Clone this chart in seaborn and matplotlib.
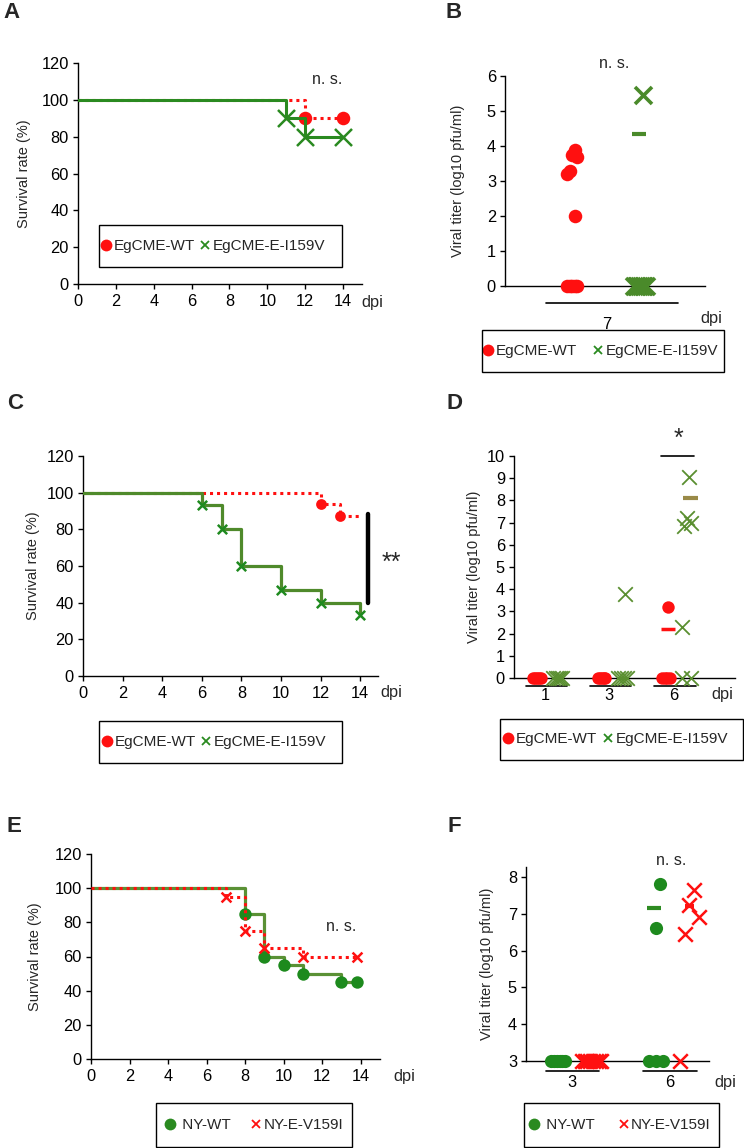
import numpy as np
import pandas as pd
import matplotlib
matplotlib.use("Agg")
import matplotlib.pyplot as plt
import seaborn as sns
from matplotlib.lines import Line2D
from matplotlib.patches import Rectangle

# --- A: survival, EgCME (days / survival %) ---
a_wt_days = [0, 12, 14]
a_wt_surv = [100, 90, 90]
a_mut_days = [0, 11, 12, 14]
a_mut_surv = [100, 90, 80, 80]

# --- B: viral titer at 7 dpi ---
b_dpi = ["7"]
b_wt_titer = [[3.9, 3.75, 3.7, 3.3, 3.2, 2.0, 0, 0, 0, 0, 0]]
b_mut_titer = [[5.45, 0, 0, 0, 0, 0, 0, 0, 0]]
b_mut_mean = [4.35]

# --- C: survival, EgCME ---
c_wt_days = [0, 12, 13, 14]
c_wt_surv = [100, 93.75, 87.5, 87.5]
c_mut_days = [0, 6, 7, 8, 10, 12, 14]
c_mut_surv = [100, 93.3, 80, 60, 46.7, 40, 33.3]

# --- D: viral titer by dpi ---
d_dpi = ["1", "3", "6"]
d_wt_titer = [[0, 0, 0, 0, 0], [0, 0, 0, 0, 0], [3.2, 0, 0, 0, 0]]
d_mut_titer = [[0, 0, 0, 0, 0], [3.8, 0, 0, 0, 0], [9.05, 7.2, 7.0, 6.85, 2.3, 0, 0]]
d_wt_mean = [np.nan, np.nan, 2.2]
d_mut_mean = [np.nan, np.nan, 8.1]

# --- E: survival, NY ---
e_wt_days = [0, 8, 9, 10, 11, 13, 13.8]
e_wt_surv = [100, 85, 60, 55, 50, 45, 45]
e_mut_days = [0, 7, 8, 9, 11, 13.8]
e_mut_surv = [100, 95, 75, 65, 60, 60]

# --- F: viral titer by dpi ---
f_dpi = ["3", "6"]
f_wt_titer = [[3, 3, 3, 3, 3, 3], [7.8, 6.6, 3, 3, 3]]
f_mut_titer = [[3, 3, 3, 3, 3, 3, 3, 3], [7.65, 7.25, 6.9, 6.45, 3]]
f_wt_mean = [np.nan, 7.15]
f_mut_mean = [np.nan, 7.2]

RED = "#ff1010"
GREEN = "#2a8a20"

sns.set_theme(style="ticks")
plt.rcParams["font.family"] = ["Liberation Sans", "DejaVu Sans"]
plt.rcParams["axes.edgecolor"] = "black"

W, H = 744, 1148
fig = plt.figure(figsize=(W / 100, H / 100), dpi=100)


def rect(l, t, r, b):
    return [l / W, 1 - b / H, (r - l) / W, (b - t) / H]


def fxy(x, y):
    return x / W, 1 - y / H


def style(ax):
    sns.despine(ax=ax)
    for s in ["left", "bottom"]:
        ax.spines[s].set_linewidth(1.0)
        ax.spines[s].set_color("black")
    ax.tick_params(direction="out", length=3.5, width=1, labelsize=11.8,
                   pad=3, colors="black")
    ax.set_facecolor("white")


def survival(ax, days, surv, color, ls, lw, mcolor, marker, ms, mlw, z, end_marker=True):
    sns.lineplot(x=days, y=surv, drawstyle="steps-post", color=color,
                 linestyle=ls, linewidth=lw, ax=ax, zorder=z,
                 estimator=None, sort=False)
    md, mv = days[1:], surv[1:]
    if not end_marker:
        md, mv = md[:-1], mv[:-1]
    kw = dict(linewidth=mlw) if marker == "x" else dict(linewidth=0)
    sns.scatterplot(x=md, y=mv, marker=marker, s=ms, color=mcolor, ax=ax,
                    zorder=z + 1, clip_on=False, **kw)


def surv_axes(ax, xmax, ylabel_x):
    style(ax)
    ax.set_xlim(0, xmax)
    ax.set_ylim(0, 120)
    ax.set_xticks(range(0, 15, 2))
    ax.set_yticks(range(0, 121, 20))
    ax.tick_params(axis="x", pad=3.5)
    ax.set_xlabel("")
    ax.set_ylabel("Survival rate (%)", fontsize=10.5)
    ax.yaxis.set_label_coords(ylabel_x, 0.5)


def spread(vals, half):
    # tied values side by side, single values nudged in a fixed zigzag
    vals = np.asarray(vals, float)
    offs = np.zeros(len(vals))
    zig = [0.5, 0.0, 1.0, -0.5, -1.0]
    k = 0
    for v in sorted(np.unique(vals), reverse=True):
        idx = np.where(vals == v)[0]
        if len(idx) > 1:
            offs[idx] = np.linspace(-half, half, len(idx))
        else:
            offs[idx] = zig[k % len(zig)] * half
            k += 1
    return offs


def dots(ax, groups, offset, half, marker, color, s, lw, z=3):
    rows = []
    for i, vals in enumerate(groups):
        xs = i + offset + spread(vals, half)
        for x, v in zip(xs, vals):
            rows.append({"x": x, "titer": v})
    df = pd.DataFrame(rows)
    kw = dict(linewidth=lw) if marker == "x" else dict(linewidth=0)
    sns.scatterplot(data=df, x="x", y="titer", marker=marker, s=s, color=color,
                    ax=ax, zorder=z, clip_on=False, **kw)


def means(ax, vals, offset, half, color, lw):
    for i, m in enumerate(vals):
        if not np.isnan(m):
            ax.hlines(m, i + offset - half, i + offset + half, color=color,
                      linewidth=lw, zorder=2)


def legend(ax, labels, colors, box, hx, colsp):
    l, t, r, b = box
    fig.add_artist(Rectangle(fxy(l, b), (r - l) / W, (b - t) / H,
                             transform=fig.transFigure, fill=False,
                             edgecolor="black", linewidth=1.0))
    hs = [Line2D([], [], ls="", marker="o", color=colors[0], markersize=8.5,
                 markeredgewidth=0),
          Line2D([], [], ls="", marker="x", color=colors[1], markersize=5.5,
                 markeredgewidth=1.3)]
    ax.legend(hs, labels, loc="center left", ncol=2,
              bbox_to_anchor=fxy(hx - 6, (t + b) / 2),
              bbox_transform=fig.transFigure, fontsize=11,
              frameon=False, borderaxespad=0, borderpad=0,
              handlelength=0.8, handletextpad=0.1, columnspacing=colsp)


def dot_axes(ax, cats, xlim, ylim, yticks, pad, ylabel_x):
    style(ax)
    ax.set_xlim(*xlim)
    ax.set_ylim(*ylim)
    ax.set_yticks(yticks)
    ax.set_xticks(range(len(cats)))
    ax.set_xticklabels(cats)
    ax.tick_params(axis="x", length=0, pad=pad)
    ax.set_xlabel("")
    ax.set_ylabel("Viral titer (log10 pfu/ml)", fontsize=10.5)
    ax.yaxis.set_label_coords(ylabel_x, 0.5)


def underline(ax, n, lo, hi, y):
    for i in range(n):
        ax.plot([i + lo, i + hi], [y, y], color="black", lw=1.2, clip_on=False)


def ftext(x, y, s, **kw):
    fig.text(*fxy(x, y), s, ha="center", va="center", **kw)


def letter(x, y, s):
    ftext(x, y, s, fontsize=16, fontweight="bold")


# ---------------- A ----------------
axA = fig.add_axes(rect(78, 63, 362, 284))
survival(axA, a_wt_days, a_wt_surv, RED, (0, (1, 1.3)), 2.2, RED, "o", 95, 0, 2)
survival(axA, a_mut_days, a_mut_surv, GREEN, "-", 2.2, GREEN, "x", 150, 1.8, 4)
surv_axes(axA, 15, -0.165)
axA.text(13.15, 111, "n. s.", ha="center", va="center", fontsize=11.5)
legend(axA, ["EgCME-WT", "EgCME-E-I159V"], [RED, GREEN],
       (99, 225, 342, 267), 106, 0.25)
ftext(372, 303, "dpi", fontsize=11.8)
letter(12, 13, "A")

# ---------------- B ----------------
axB = fig.add_axes(rect(505, 76, 705, 286))
dots(axB, b_wt_titer, -0.35, 0.05, "o", RED, 95, 0)
dots(axB, b_mut_titer, 0.33, 0.06, "x", "#4a8a2a", 150, 2.6)
means(axB, b_mut_mean, 0.32, 0.07, "#4a8a2a", 3)
dot_axes(axB, b_dpi, (-1.02, 0.98), (0, 6), range(0, 7), 22, -0.2)
underline(axB, 1, -0.61, 0.71, -0.49)
axB.text(0.07, 6.37, "n. s.", ha="center", va="center", fontsize=11.5)
ftext(711, 318, "dpi", fontsize=11.8)
legend(axB, ["EgCME-WT", "EgCME-E-I159V"], [RED, GREEN],
       (482, 330, 724, 372), 488, 1.0)
letter(454, 13, "B")

# ---------------- C ----------------
axC = fig.add_axes(rect(83, 456, 378, 676))
survival(axC, c_wt_days, c_wt_surv, RED, (0, (1, 1.3)), 2.2, RED, "o", 60, 0, 2,
         end_marker=False)
survival(axC, c_mut_days, c_mut_surv, "#4f8a2b", "-", 2.3, "#1f8a1f", "x", 45, 1.8, 4)
surv_axes(axC, 14.9, -0.145)
axC.plot([14.4, 14.4], [88.4, 39.8], color="black", lw=3.2, clip_on=False)
axC.text(15.6, 61.6, "**", ha="center", va="center", fontsize=18)
ftext(391, 692, "dpi", fontsize=11.8)
legend(axC, ["EgCME-WT", "EgCME-E-I159V"], [RED, GREEN],
       (99, 721, 342, 763), 107, 0.25)
letter(15, 403, "C")

# ---------------- D ----------------
axD = fig.add_axes(rect(514, 456, 735, 678))
dots(axD, d_wt_titer, -0.12, 0.06, "o", RED, 80, 0)
dots(axD, d_mut_titer, 0.2, 0.07, "x", "#5a8f30", 110, 1.3)
means(axD, d_wt_mean, -0.09, 0.11, RED, 2.5)
means(axD, d_mut_mean, 0.26, 0.11, "#9a8a48", 3)
dot_axes(axD, d_dpi, (-0.48, 2.95), (0, 10), range(0, 11), 7, -0.15)
underline(axD, 3, -0.3, 0.34, -0.36)
axD.plot([1.8, 2.32], [10, 10], color="black", lw=1.2, clip_on=False)
axD.text(2.08, 10.75, "*", ha="center", va="center", fontsize=18)
ftext(722, 694, "dpi", fontsize=11.8)
legend(axD, ["EgCME-WT", "EgCME-E-I159V"], [RED, GREEN],
       (500, 719, 743, 760), 508, 0.35)
letter(454, 403, "D")

# ---------------- E ----------------
axE = fig.add_axes(rect(91, 854, 380, 1059))
survival(axE, e_wt_days, e_wt_surv, "#5a9135", "-", 2.3, "#1d8a1d", "o", 80, 0, 2)
survival(axE, e_mut_days, e_mut_surv, RED, (0, (1, 1.3)), 2.2, RED, "x", 50, 1.8, 4)
surv_axes(axE, 15, -0.17)
axE.text(13.0, 77.3, "n. s.", ha="center", va="center", fontsize=11.5)
ftext(404, 1077, "dpi", fontsize=11.8)
legend(axE, [" NY-WT", "NY-E-V159I"], [GREEN, RED],
       (156, 1103, 352, 1147), 170, 1.3)
letter(14, 827, "E")

# ---------------- F ----------------
axF = fig.add_axes(rect(526, 867, 709, 1061))
dots(axF, f_wt_titer, -0.14, 0.07, "o", "#1e8a1e", 90, 0)
dots(axF, f_mut_titer, 0.2, 0.1, "x", RED, 110, 1.8)
means(axF, f_wt_mean, -0.16, 0.07, "#2e8b22", 3)
means(axF, f_mut_mean, 0.2, 0.05, RED, 3)
dot_axes(axF, f_dpi, (-0.47, 1.4), (3, 8.27), range(3, 9), 10, -0.175)
underline(axF, 2, -0.27, 0.28, 2.73)
axF.text(1.01, 8.46, "n. s.", ha="center", va="center", fontsize=11.5)
ftext(725, 1083, "dpi", fontsize=11.8)
legend(axF, [" NY-WT", "NY-E-V159I"], [GREEN, RED],
       (524, 1103, 719, 1147), 534, 1.5)
letter(454, 826, "F")

fig.savefig("out.png", dpi=100, facecolor="white")
